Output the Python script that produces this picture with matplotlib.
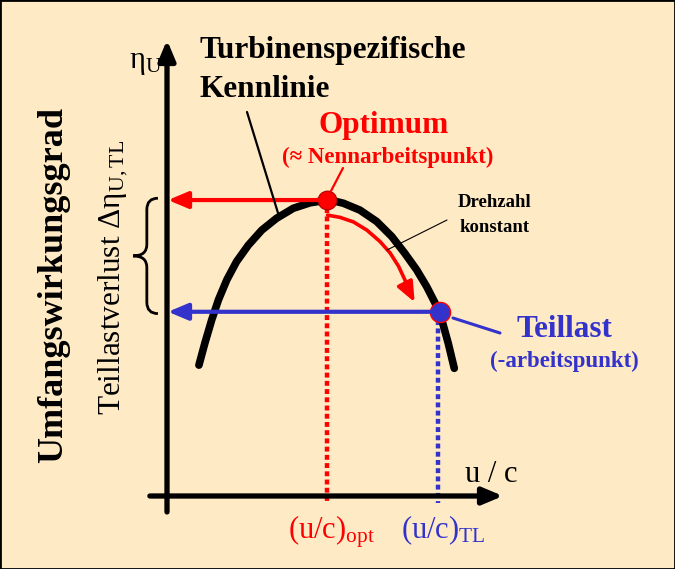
import matplotlib.pyplot as plt
from matplotlib.path import Path
from matplotlib.patches import PathPatch, FancyArrowPatch, Rectangle

plt.rcParams['font.family'] = ['Liberation Serif', 'DejaVu Serif']
plt.rcParams['mathtext.fontset'] = 'custom'
plt.rcParams['mathtext.rm'] = 'Liberation Serif'
plt.rcParams['mathtext.it'] = 'Liberation Serif:italic'
plt.rcParams['mathtext.bf'] = 'Liberation Serif:bold'

# turbine characteristic eta_U over u/c (schematic, axis units 0..1)
curve_u = [0.095, 0.113, 0.133, 0.153, 0.178, 0.207, 0.242, 0.282, 0.326, 0.376, 0.426,
           0.470, 0.497, 0.525, 0.574, 0.624, 0.669, 0.708, 0.743, 0.773, 0.798, 0.818,
           0.837, 0.855]
curve_eta = [0.287, 0.336, 0.386, 0.430, 0.474, 0.514, 0.550, 0.583, 0.609, 0.631, 0.643,
             0.648, 0.647, 0.642, 0.627, 0.602, 0.569, 0.532, 0.496, 0.459, 0.423, 0.386,
             0.335, 0.280]

# operating points
opt_u, opt_eta = 0.476, 0.649
tl_u, tl_eta = 0.812, 0.404

# path of the red "constant speed" arrow
move_u = [0.478, 0.515, 0.555, 0.595, 0.634, 0.664, 0.689, 0.708, 0.723, 0.737]
move_eta = [0.616, 0.611, 0.601, 0.583, 0.558, 0.533, 0.504, 0.474, 0.445, 0.425]

BG = '#ffeac6'
RED = '#ff0000'
BLUE = '#3333cc'
W, H = 675, 569

fig = plt.figure(figsize=(6.75, 5.69), dpi=100, facecolor=BG)
ax = fig.add_axes([167 / W, (H - 496) / H, 336 / W, 456 / H])
ax.set_xlim(0, 1)
ax.set_ylim(0, 1)
ax.axis('off')
fig.patches.append(Rectangle((0, 0), 1, 1, transform=fig.transFigure, fill=False,
                             ec='k', lw=2))


def arrow(x0, y0, x1, y1, color, lw, hl=1.0, hw=0.42):
    ax.annotate('', xy=(x1, y1), xytext=(x0, y0), annotation_clip=False,
                arrowprops=dict(arrowstyle=f'-|>,head_length={hl},head_width={hw}',
                                color=color, lw=lw, shrinkA=0, shrinkB=0,
                                mutation_scale=12))


# axes with arrows
arrow(0, -0.035, 0, 1.0, 'k', 3.8)
arrow(-0.051, 0, 1.0, 0, 'k', 3.8)

# drop lines
ax.plot([opt_u, opt_u], [opt_eta, -0.016], color=RED, lw=3.2, ls=(0, (1.1, 0.75)),
        clip_on=False)
ax.plot([tl_u - 0.006, tl_u - 0.006], [tl_eta, -0.016], color=BLUE, lw=3.2,
        ls=(0, (1.1, 0.75)), clip_on=False)

# horizontal arrows to eta axis
arrow(opt_u, opt_eta, 0.003, opt_eta, RED, 3)
arrow(tl_u, tl_eta, 0.003, tl_eta, BLUE, 3)

# characteristic curve
ax.plot(curve_u, curve_eta, color='k', lw=5.5, solid_capstyle='round',
        solid_joinstyle='round', clip_on=False)

# red arrow along the curve
verts = list(zip(move_u, move_eta))
ax.add_patch(FancyArrowPatch(path=Path(verts), arrowstyle='-|>,head_length=1.0,head_width=0.42',
                             color=RED, lw=2.6, mutation_scale=12, shrinkA=0, shrinkB=0))

# operating points
ax.plot(opt_u, opt_eta, 'o', ms=13.5, mfc=RED, mec='#aa0000', mew=0.8, clip_on=False)
ax.plot(tl_u, tl_eta, 'o', ms=14.5, mfc=BLUE, mec=RED, mew=1, clip_on=False)

# brace for part-load loss
x_end, x_mid, x_tip = -0.027, -0.06, -0.101
top, bot = opt_eta + 0.004, tl_eta - 0.004
c = (top + bot) / 2
r = 0.025
bverts = [(x_end, top), (x_mid, top), (x_mid, top - r), (x_mid, c + r), (x_mid, c),
          (x_tip, c), (x_mid, c), (x_mid, c - r), (x_mid, bot + r), (x_mid, bot),
          (x_end, bot)]
bcodes = [Path.MOVETO, Path.CURVE3, Path.CURVE3, Path.LINETO, Path.CURVE3, Path.CURVE3,
          Path.CURVE3, Path.CURVE3, Path.LINETO, Path.CURVE3, Path.CURVE3]
ax.add_patch(PathPatch(Path(bverts, bcodes), fill=False, lw=2, ec='k', clip_on=False))


def label(x, y, s, **kw):
    return ax.annotate(s, xy=(x, H - y), xycoords='figure pixels', annotation_clip=False, **kw)


def leader(x0, y0, x1, y1, color, lw):
    ax.annotate('', xy=(x1, H - y1), xycoords='figure pixels', xytext=(x0, H - y0),
                textcoords='figure pixels', annotation_clip=False,
                arrowprops=dict(arrowstyle='-', color=color, lw=lw, shrinkA=0, shrinkB=0))


# texts
label(200, 58, 'Turbinenspezifische', fontsize=22.5, fontweight='bold', va='baseline')
label(200, 97, 'Kennlinie', fontsize=22.5, fontweight='bold', va='baseline')
leader(247, 112, 278, 213, 'k', 1.6)

label(384, 133, 'Optimum', color=RED, fontsize=22.5, fontweight='bold', ha='center',
      va='baseline')
label(388, 163, '(≈ Nennarbeitspunkt)', color=RED, fontsize=16.5, fontweight='bold',
      ha='center', va='baseline')
leader(343, 168, 331, 191, RED, 1.6)

label(495, 207, 'Drehzahl', fontsize=13.5, fontweight='bold', ha='center', va='baseline')
label(495, 232, 'konstant', fontsize=13.5, fontweight='bold', ha='center', va='baseline')
leader(447, 220, 387, 250, 'k', 0.8)

label(564, 337, 'Teillast', color=BLUE, fontsize=22.5, fontweight='bold', ha='center',
      va='baseline')
label(564, 367, '(-arbeitspunkt)', color=BLUE, fontsize=16.5, fontweight='bold', ha='center',
      va='baseline')
leader(500, 333, 453, 318, BLUE, 2.2)

label(491, 482, 'u / c', fontsize=22, ha='center', va='baseline')
label(332, 538, r'$\mathrm{(u/c)_{opt}}$', color=RED, fontsize=22, ha='center', va='baseline')
label(443, 538, r'$\mathrm{(u/c)_{TL}}$', color=BLUE, fontsize=22, ha='center', va='baseline')
label(146, 68, r'$\mathrm{\eta_{U}}$', fontsize=22, ha='center', va='baseline')

label(62, 285, 'Umfangswirkungsgrad', fontsize=26, fontweight='bold', rotation=90,
      rotation_mode='anchor', ha='center', va='baseline')
label(120, 277, r'Teillastverlust $\mathrm{\Delta\eta_{U,TL}}$', fontsize=22.5, rotation=90,
      rotation_mode='anchor', ha='center', va='baseline')

fig.savefig('out.png', dpi=100, facecolor=BG)
